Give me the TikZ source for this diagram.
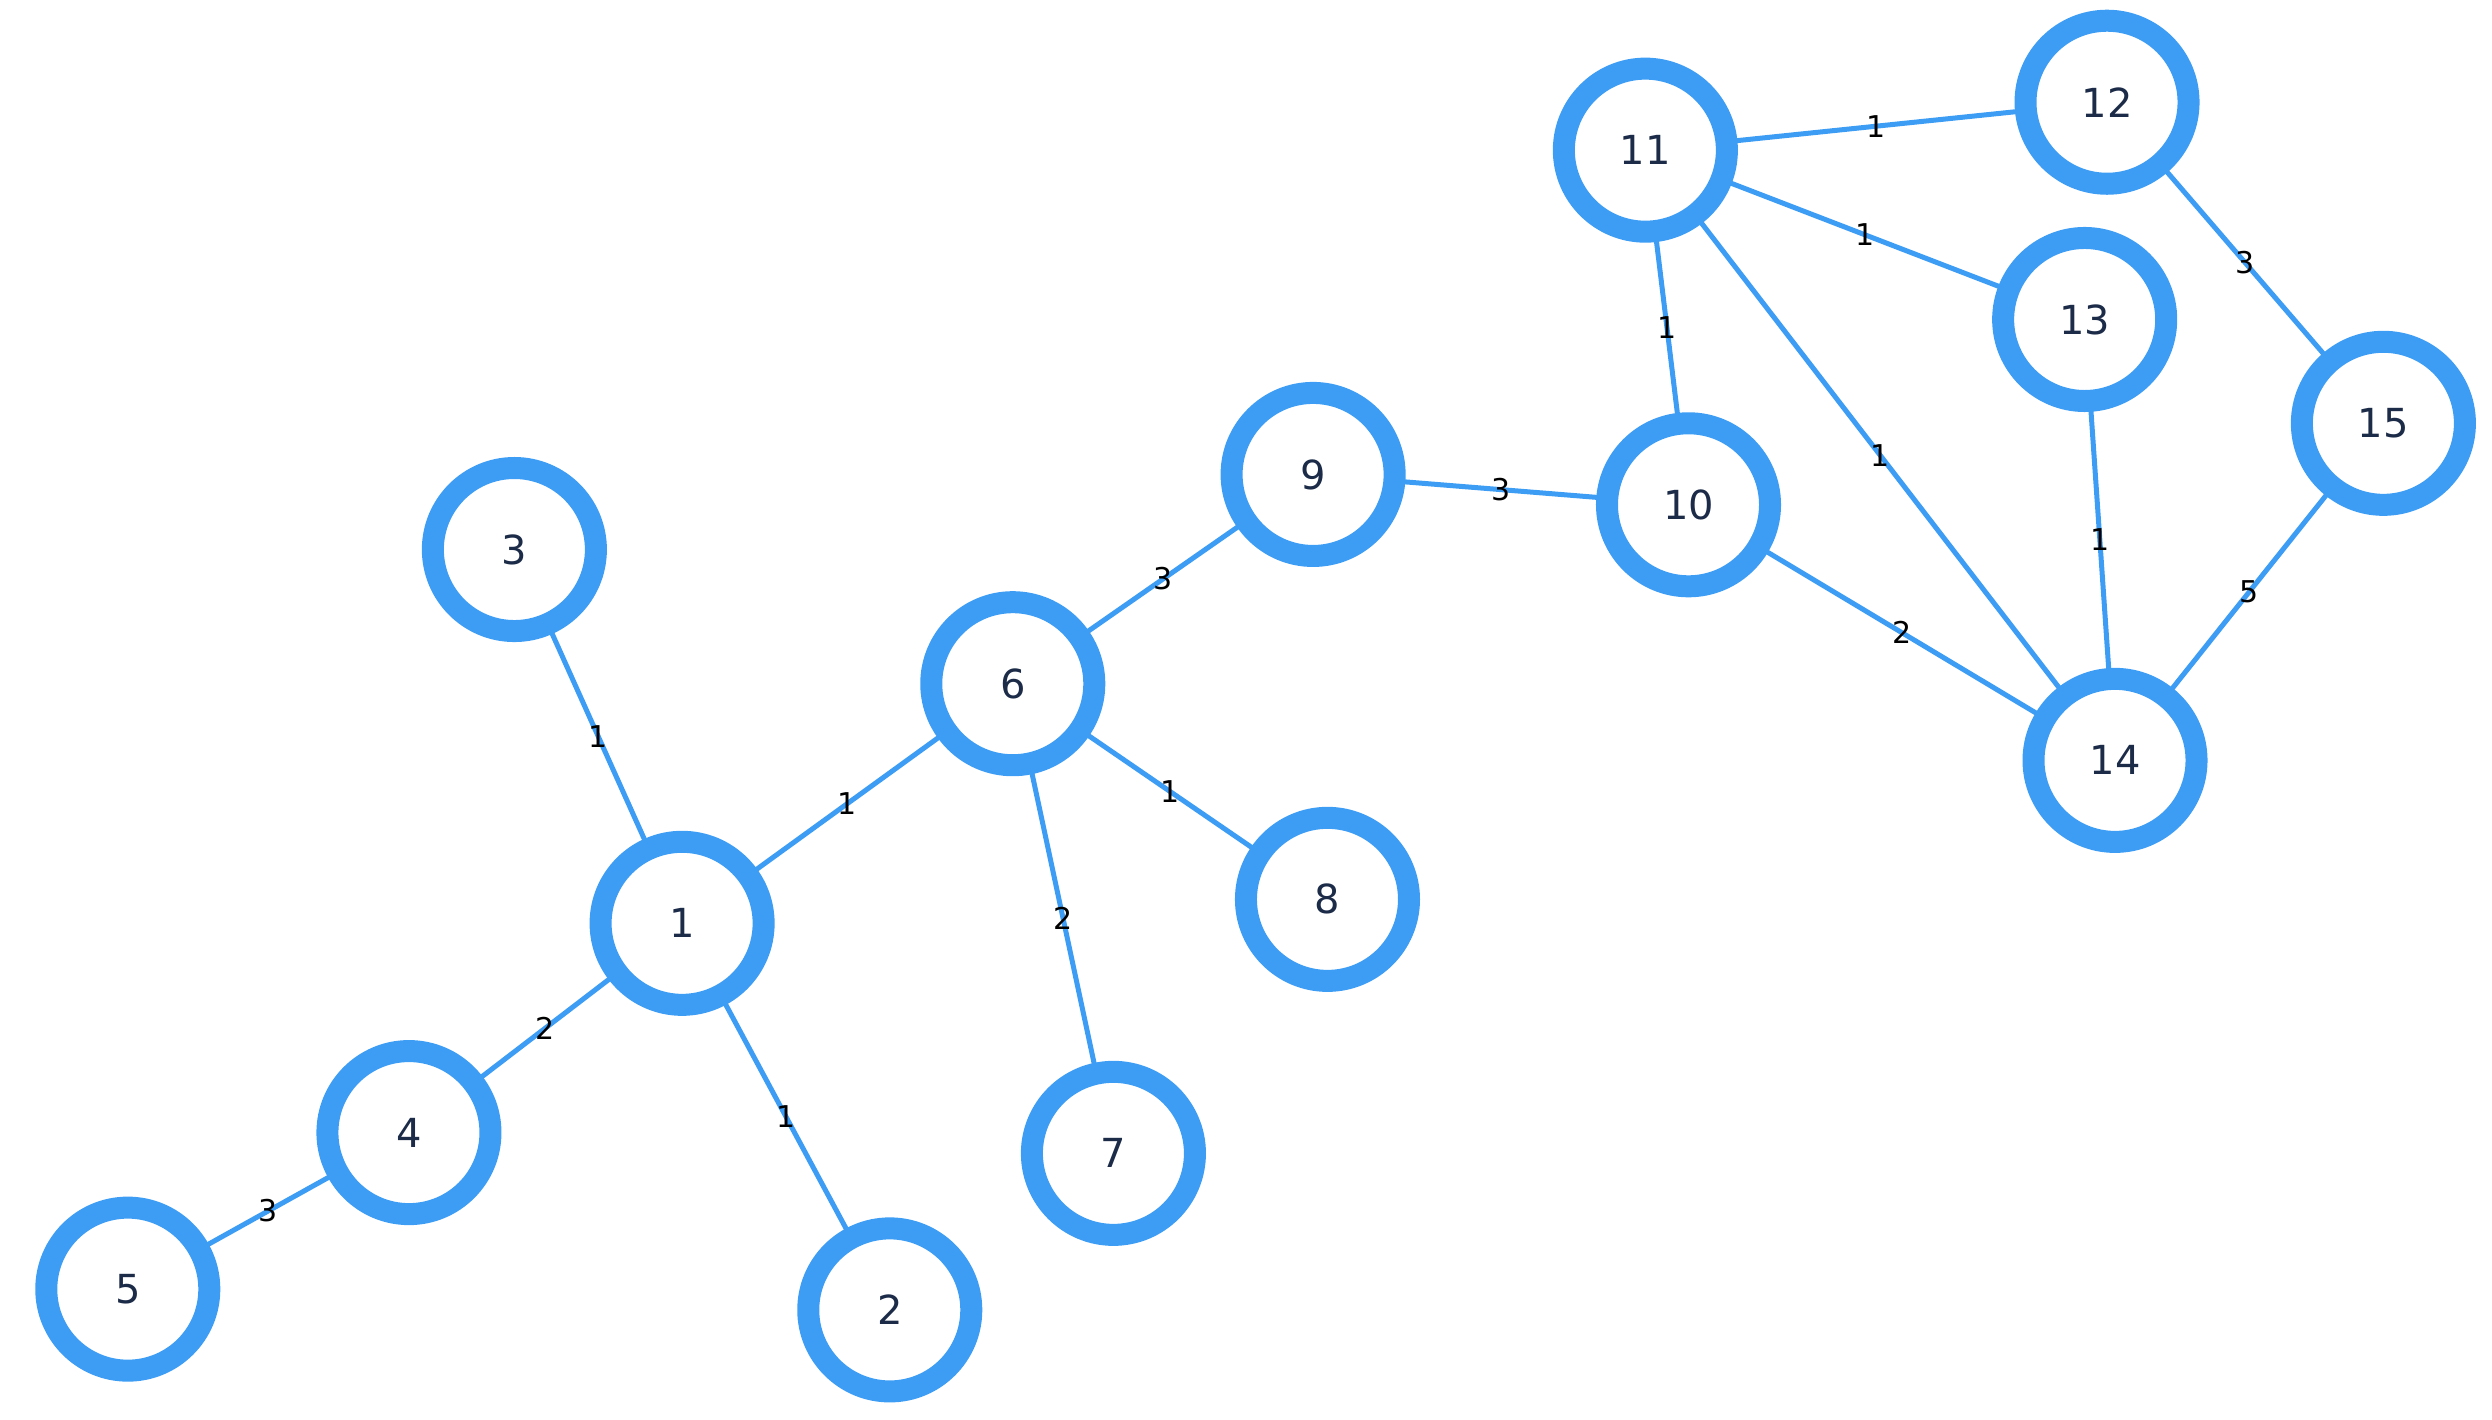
\documentclass[tikz,border=0pt]{standalone}
\usepackage{fontspec}
\setmainfont{DejaVu Sans}
\begin{document}
\begin{tikzpicture}[x=1.597pt,y=-1.597pt,
  v/.style={circle,draw=blue1,line width=22pt,fill=white,minimum size=163pt,inner sep=0pt,text=navy,font=\fontsize{40}{40}\selectfont},
  e/.style={draw=blue1,line width=5pt},
  w/.style={midway,inner sep=0pt,text=black,font=\fontsize{30}{30}\selectfont}]
\definecolor{blue1}{HTML}{3D9DF5}
\definecolor{navy}{HTML}{1C2B48}
\useasboundingbox (0,0) rectangle (1560,888.5);
\foreach \n/\x/\y in {1/427/578,2/557/820,3/322/344,4/256/709,5/80/807,6/634/428,7/697/722,8/831/563,9/822/297,10/1057/316,11/1030/94,12/1319/64,13/1305/200,14/1324/476,15/1492/265}
  \coordinate (c\n) at (\x,\y);
\foreach \a/\b/\w in {3/1/1,1/6/1,1/4/2,4/5/3,1/2/1,6/9/3,6/7/2,6/8/1,9/10/3,11/10/1,11/12/1,11/13/1,11/14/1,10/14/2,13/14/1,12/15/3,15/14/5}
  \draw[e] (c\a) -- (c\b) node[w]{\w};
\foreach \n in {1,...,15}
  \node[v] (n\n) at (c\n) {\n};
\end{tikzpicture}
\end{document}
